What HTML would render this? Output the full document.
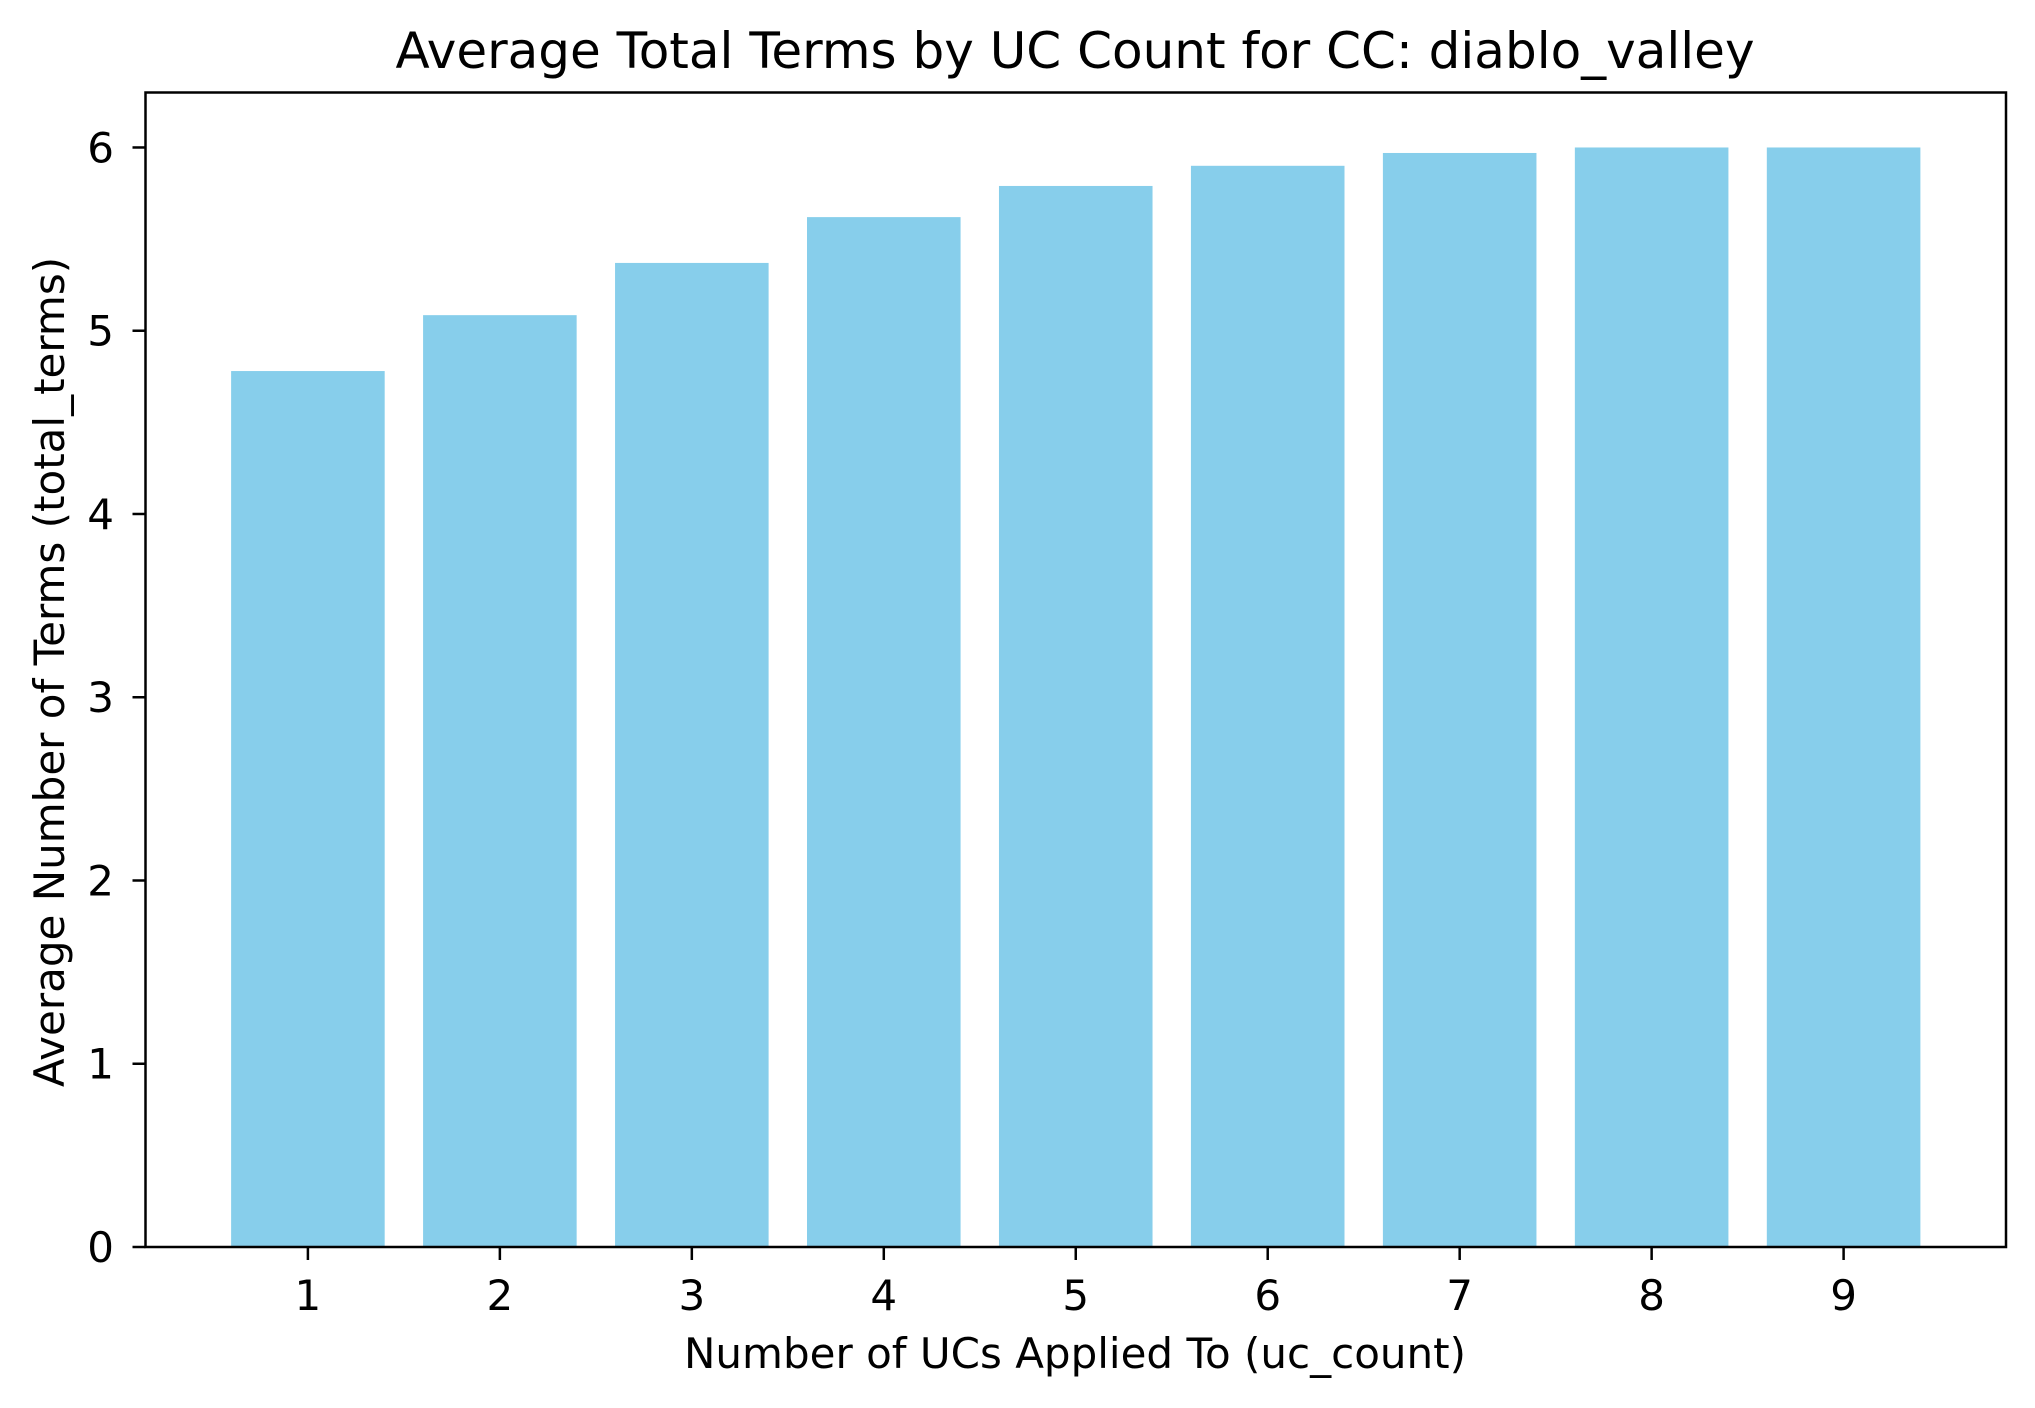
<!DOCTYPE html>
<html><head><meta charset="utf-8"><style>
html,body{margin:0;padding:0;background:#fff;}
svg{display:block;font-family:"DejaVu Sans","Liberation Sans",sans-serif;}
</style></head><body>
<svg id="chart" width="2035" height="1408" viewBox="0 0 2035 1408">
<text x="1075" y="68" font-size="50" text-anchor="middle">Average Total Terms by UC Count for CC: diablo_valley</text>
<g id="bars"></g>
<g id="axes"></g>
<text x="1075" y="1368" font-size="42" text-anchor="middle">Number of UCs Applied To (uc_count)</text>
<text transform="translate(64,672) rotate(-90)" font-size="42" text-anchor="middle">Average Number of Terms (total_terms)</text>
</svg>
<script>
const categories = [1,2,3,4,5,6,7,8,9];
const values = [4.78,5.085,5.37,5.62,5.79,5.90,5.97,6.0,6.0];
const yTicks = [0,1,2,3,4,5,6];

const L=145.5,R=2006,T=92.5,B=1247;
const xMin=0.154, xMax=9.846, yMax=6.3;
const xs=v=>L+(v-xMin)/(xMax-xMin)*(R-L);
const ys=v=>B-v/yMax*(B-T);
const NS="http://www.w3.org/2000/svg";
const bars=document.getElementById('bars');
const axes=document.getElementById('axes');
function mk(tag,attrs,parent){const e=document.createElementNS(NS,tag);for(const k in attrs)e.setAttribute(k,attrs[k]);parent.appendChild(e);return e;}
const bw=(xs(1.4)-xs(0.6));
categories.forEach((c,i)=>{
  const r=mk('rect',{x:xs(c)-bw/2,y:ys(values[i]),width:bw,height:B-ys(values[i]),fill:'#87ceeb'},bars);
  
  
  const t=mk('line',{x1:xs(c),x2:xs(c),y1:B,y2:B+13,stroke:'#000','stroke-width':2.5},axes);
  
  
  const lb=mk('text',{x:xs(c),y:1310,'font-size':42,'text-anchor':'middle'},axes);
  lb.textContent=c;
  
  
});
yTicks.forEach(v=>{
  const t=mk('line',{x1:L-13,x2:L,y1:ys(v),y2:ys(v),stroke:'#000','stroke-width':2.5},axes);
  
  
  const lb=mk('text',{x:114,y:ys(v)+15,'font-size':42,'text-anchor':'end'},axes);
  lb.textContent=v;
  
  
});
const f=mk('rect',{x:L,y:T,width:R-L,height:B-T,fill:'none',stroke:'#000','stroke-width':2.5},axes);


</script>
</body></html>
